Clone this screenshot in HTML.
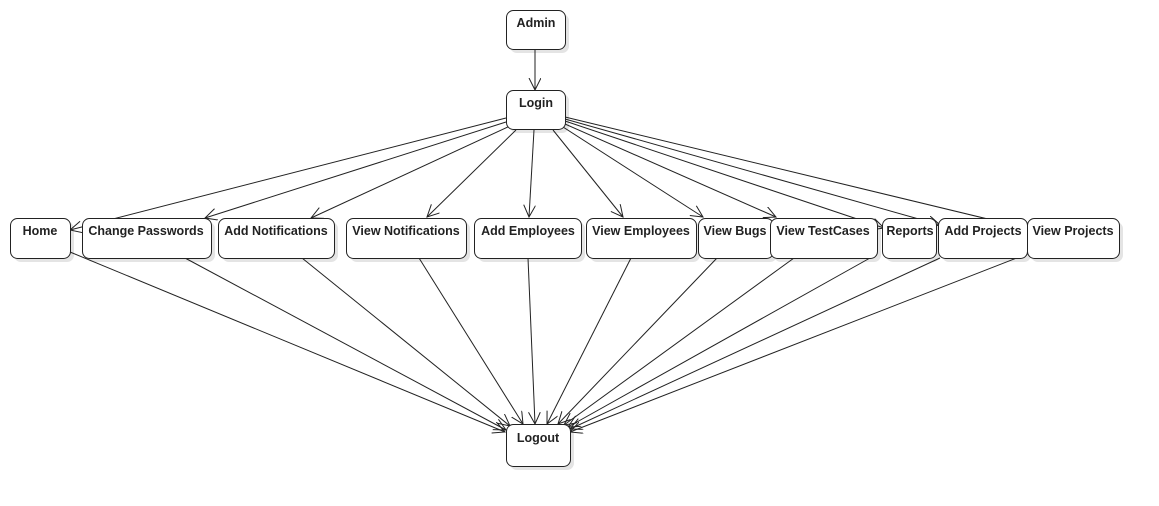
<!DOCTYPE html>
<html><head><style>
body{margin:0;background:#fff;}
svg{display:block;font-family:"Liberation Sans",sans-serif;}
text{font-size:12.5px;font-weight:bold;fill:#222;}
</style></head><body>
<svg width="1159" height="506" viewBox="0 0 1159 506">
<defs>
<marker id="a" markerWidth="14" markerHeight="14" refX="12" refY="6" orient="auto" markerUnits="userSpaceOnUse">
<path d="M0,0 L12,6 L0,12" fill="none" stroke="#222" stroke-width="1"/>
</marker>
</defs>
<g fill="#e4e4e4">
<rect x="510" y="14" width="59" height="39" rx="7"/>
<rect x="510" y="94" width="59" height="39" rx="7"/>
<rect x="510" y="428" width="64" height="42" rx="7"/>
<rect x="14" y="222" width="60" height="40" rx="7"/>
<rect x="86" y="222" width="129" height="40" rx="7"/>
<rect x="222" y="222" width="116" height="40" rx="7"/>
<rect x="350" y="222" width="120" height="40" rx="7"/>
<rect x="478" y="222" width="107" height="40" rx="7"/>
<rect x="590" y="222" width="110" height="40" rx="7"/>
<rect x="702" y="222" width="75" height="40" rx="7"/>
<rect x="774" y="222" width="107" height="40" rx="7"/>
<rect x="886" y="222" width="54" height="40" rx="7"/>
<rect x="942" y="222" width="89" height="40" rx="7"/>
<rect x="1031" y="222" width="92" height="40" rx="7"/>
</g>
<g stroke="#222" stroke-width="1" fill="none" marker-end="url(#a)">
<line x1="535" y1="49" x2="535" y2="90"/>
<line x1="506" y1="118" x2="70" y2="230"/>
<line x1="506" y1="122" x2="205" y2="218"/>
<line x1="510" y1="126" x2="311" y2="218"/>
<line x1="516" y1="130" x2="427" y2="217"/>
<line x1="534" y1="130" x2="529" y2="217"/>
<line x1="553" y1="130" x2="623" y2="217"/>
<line x1="563" y1="127" x2="703" y2="217"/>
<line x1="565" y1="124" x2="776" y2="217"/>
<line x1="565" y1="121" x2="884" y2="228"/>
<line x1="565" y1="119" x2="940" y2="225"/>
<line x1="565" y1="117" x2="1025" y2="228"/>
<line x1="70" y1="252" x2="505" y2="432"/>
<line x1="185" y1="258" x2="506" y2="430"/>
<line x1="302" y1="258" x2="510" y2="426"/>
<line x1="419" y1="258" x2="523" y2="424"/>
<line x1="528" y1="258" x2="535" y2="424"/>
<line x1="631" y1="258" x2="547" y2="424"/>
<line x1="717" y1="258" x2="558" y2="424"/>
<line x1="794" y1="258" x2="564" y2="425"/>
<line x1="870" y1="258" x2="568" y2="427"/>
<line x1="940" y1="258" x2="570" y2="429"/>
<line x1="1027" y1="254" x2="570" y2="432"/>
</g>
<g fill="#fff" stroke="#222" stroke-width="1">
<rect x="506.5" y="10.5" width="59" height="39" rx="7"/>
<rect x="506.5" y="90.5" width="59" height="39" rx="7"/>
<rect x="506.5" y="424.5" width="64" height="42" rx="7"/>
<rect x="10.5" y="218.5" width="60" height="40" rx="7"/>
<rect x="82.5" y="218.5" width="129" height="40" rx="7"/>
<rect x="218.5" y="218.5" width="116" height="40" rx="7"/>
<rect x="346.5" y="218.5" width="120" height="40" rx="7"/>
<rect x="474.5" y="218.5" width="107" height="40" rx="7"/>
<rect x="586.5" y="218.5" width="110" height="40" rx="7"/>
<rect x="698.5" y="218.5" width="75" height="40" rx="7"/>
<rect x="770.5" y="218.5" width="107" height="40" rx="7"/>
<rect x="882.5" y="218.5" width="54" height="40" rx="7"/>
<rect x="938.5" y="218.5" width="89" height="40" rx="7"/>
<rect x="1027.5" y="218.5" width="92" height="40" rx="7"/>
</g>
<g text-anchor="middle">
<text x="536" y="27">Admin</text>
<text x="536" y="107">Login</text>
<text x="538" y="442">Logout</text>
<text x="40" y="235">Home</text>
<text x="146" y="235">Change Passwords</text>
<text x="276" y="235">Add Notifications</text>
<text x="406" y="235">View Notifications</text>
<text x="528" y="235">Add Employees</text>
<text x="641" y="235">View Employees</text>
<text x="735" y="235">View Bugs</text>
<text x="823" y="235">View TestCases</text>
<text x="910" y="235">Reports</text>
<text x="983" y="235">Add Projects</text>
<text x="1073" y="235">View Projects</text>
</g>
</svg>
</body></html>
